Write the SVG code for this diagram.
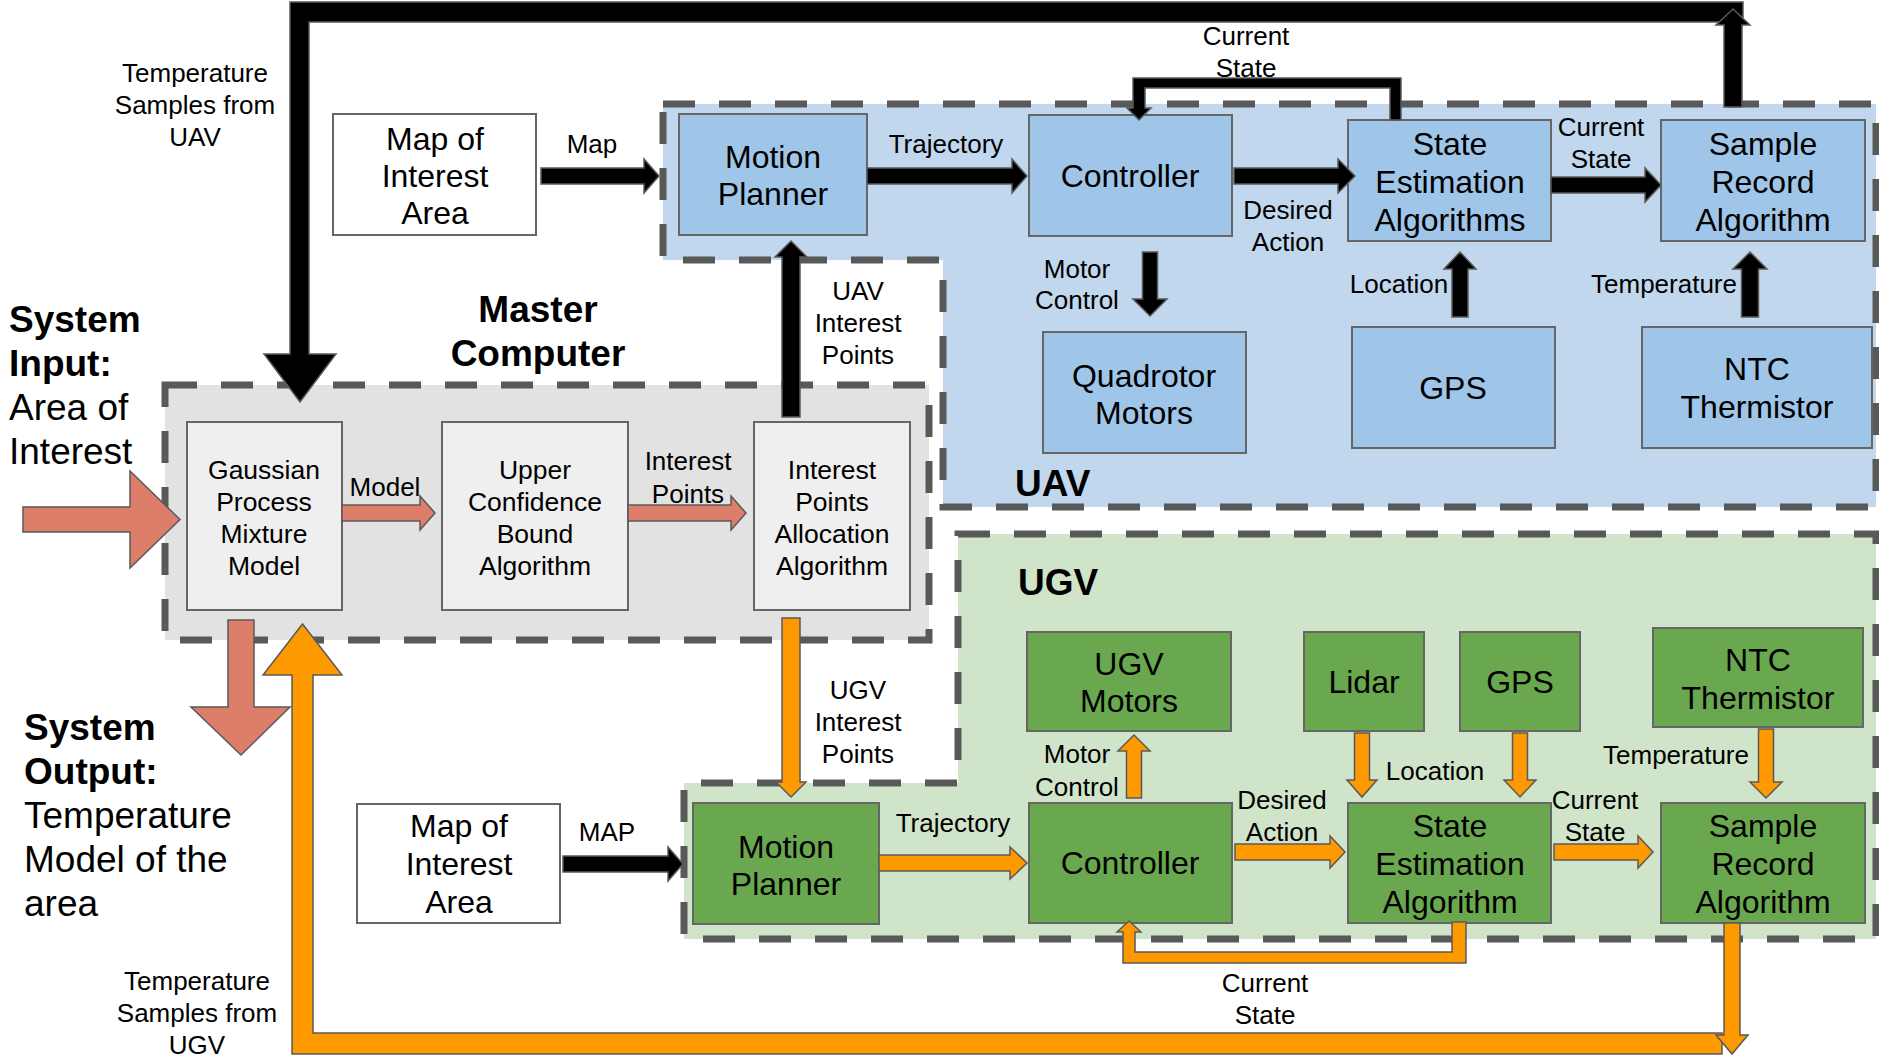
<svg xmlns="http://www.w3.org/2000/svg" width="1879" height="1058" viewBox="0 0 1879 1058">
<style>
text{font-family:"Liberation Sans",Arial,sans-serif;fill:#000}
.c{text-anchor:middle}
.t32{font-size:32px}
.t26{font-size:26px}
.t27{font-size:26.5px}
.hb{font-size:37px;font-weight:bold}
.hn{font-size:37px}
.box{stroke:#666;stroke-width:2}
.blue{fill:#9fc5e8}
.green{fill:#6aa84f}
.lg{fill:#efefef}
.wh{fill:#fff}
.region{stroke:#595959;stroke-width:7;stroke-dasharray:32 24}
.ab{fill:#000;stroke:#595959;stroke-width:1.5}
.ao{fill:#ff9900;stroke:#595959;stroke-width:1.5}
.as{fill:#dd7e6b;stroke:#595959;stroke-width:1.5}
</style>
<rect width="1879" height="1058" fill="#fff"/>

<g id="regions">
<rect id="master-region" class="region" x="165" y="385" width="764" height="255" fill="#e2e2e2"/>
<polygon id="uav-region" class="region" points="663,104 1876,104 1876,507 943,507 943,260 663,260" fill="#c0d7ee"/>
<polygon id="ugv-region" class="region" points="958,534 1876,534 1876,939 684,939 684,783 958,783" fill="#d0e4c9"/>
</g>

<g id="labels-regions">
<text class="hb c" x="538" y="322"><tspan x="538">Master</tspan><tspan x="538" dy="44">Computer</tspan></text>
<text class="hb" x="1015" y="496">UAV</text>
<text class="hb" x="1018" y="595">UGV</text>
<text x="9" y="332"><tspan class="hb" x="9">System</tspan><tspan class="hb" x="9" dy="44">Input:</tspan><tspan class="hn" x="9" dy="44">Area of</tspan><tspan class="hn" x="9" dy="44">Interest</tspan></text>
<text x="24" y="740"><tspan class="hb" x="24">System</tspan><tspan class="hb" x="24" dy="44">Output:</tspan><tspan class="hn" x="24" dy="44">Temperature</tspan><tspan class="hn" x="24" dy="44">Model of the</tspan><tspan class="hn" x="24" dy="44">area</tspan></text>
</g>

<g id="node-map-uav"><rect class="box wh" x="333" y="114" width="203" height="121"/><text class="t32 c" x="435" y="150"><tspan x="435">Map of</tspan><tspan x="435" dy="37">Interest</tspan><tspan x="435" dy="37">Area</tspan></text></g>
<g id="node-mp-uav"><rect class="box blue" x="679" y="114" width="188" height="121"/><text class="t32 c" x="773" y="168"><tspan x="773">Motion</tspan><tspan x="773" dy="37">Planner</tspan></text></g>
<g id="node-ctrl-uav"><rect class="box blue" x="1029" y="115" width="203" height="121"/><text class="t32 c" x="1130" y="187">Controller</text></g>
<g id="node-se-uav"><rect class="box blue" x="1348" y="120" width="203" height="121"/><text class="t32 c" x="1450" y="155"><tspan x="1450">State</tspan><tspan x="1450" dy="38">Estimation</tspan><tspan x="1450" dy="38">Algorithms</tspan></text></g>
<g id="node-sr-uav"><rect class="box blue" x="1661" y="120" width="204" height="121"/><text class="t32 c" x="1763" y="155"><tspan x="1763">Sample</tspan><tspan x="1763" dy="38">Record</tspan><tspan x="1763" dy="38">Algorithm</tspan></text></g>
<g id="node-quad"><rect class="box blue" x="1043" y="332" width="203" height="121"/><text class="t32 c" x="1144" y="387"><tspan x="1144">Quadrotor</tspan><tspan x="1144" dy="37">Motors</tspan></text></g>
<g id="node-gps-uav"><rect class="box blue" x="1352" y="327" width="203" height="121"/><text class="t32 c" x="1453" y="399">GPS</text></g>
<g id="node-ntc-uav"><rect class="box blue" x="1642" y="327" width="230" height="121"/><text class="t32 c" x="1757" y="380"><tspan x="1757">NTC</tspan><tspan x="1757" dy="38">Thermistor</tspan></text></g>

<g id="node-gpmm"><rect class="box lg" x="187" y="422" width="155" height="188"/><text class="t27 c" x="264" y="479"><tspan x="264">Gaussian</tspan><tspan x="264" dy="32">Process</tspan><tspan x="264" dy="32">Mixture</tspan><tspan x="264" dy="32">Model</tspan></text></g>
<g id="node-ucb"><rect class="box lg" x="442" y="422" width="186" height="188"/><text class="t27 c" x="535" y="479"><tspan x="535">Upper</tspan><tspan x="535" dy="32">Confidence</tspan><tspan x="535" dy="32">Bound</tspan><tspan x="535" dy="32">Algorithm</tspan></text></g>
<g id="node-ipa"><rect class="box lg" x="754" y="422" width="156" height="188"/><text class="t27 c" x="832" y="479"><tspan x="832">Interest</tspan><tspan x="832" dy="32">Points</tspan><tspan x="832" dy="32">Allocation</tspan><tspan x="832" dy="32">Algorithm</tspan></text></g>

<g id="node-map-ugv"><rect class="box wh" x="357" y="804" width="203" height="119"/><text class="t32 c" x="459" y="837"><tspan x="459">Map of</tspan><tspan x="459" dy="38">Interest</tspan><tspan x="459" dy="38">Area</tspan></text></g>
<g id="node-mp-ugv"><rect class="box green" x="693" y="803" width="186" height="121"/><text class="t32 c" x="786" y="858"><tspan x="786">Motion</tspan><tspan x="786" dy="37">Planner</tspan></text></g>
<g id="node-motors-ugv"><rect class="box green" x="1027" y="632" width="204" height="99"/><text class="t32 c" x="1129" y="675"><tspan x="1129">UGV</tspan><tspan x="1129" dy="37">Motors</tspan></text></g>
<g id="node-lidar"><rect class="box green" x="1304" y="632" width="120" height="99"/><text class="t32 c" x="1364" y="693">Lidar</text></g>
<g id="node-gps-ugv"><rect class="box green" x="1460" y="632" width="120" height="99"/><text class="t32 c" x="1520" y="693">GPS</text></g>
<g id="node-ntc-ugv"><rect class="box green" x="1653" y="628" width="210" height="99"/><text class="t32 c" x="1758" y="671"><tspan x="1758">NTC</tspan><tspan x="1758" dy="38">Thermistor</tspan></text></g>
<g id="node-ctrl-ugv"><rect class="box green" x="1029" y="803" width="203" height="120"/><text class="t32 c" x="1130" y="874">Controller</text></g>
<g id="node-se-ugv"><rect class="box green" x="1348" y="803" width="203" height="120"/><text class="t32 c" x="1450" y="837"><tspan x="1450">State</tspan><tspan x="1450" dy="38">Estimation</tspan><tspan x="1450" dy="38">Algorithm</tspan></text></g>
<g id="node-sr-ugv"><rect class="box green" x="1661" y="803" width="204" height="120"/><text class="t32 c" x="1763" y="837"><tspan x="1763">Sample</tspan><tspan x="1763" dy="38">Record</tspan><tspan x="1763" dy="38">Algorithm</tspan></text></g>

<g id="connectors">
<polygon class="ab" points="290,354 290,2 1743,2 1743,22 309,22 309,354 336,354 300,402 264,354"/>
<polygon class="ab" points="1724,107 1724,25 1716,25 1733,9 1750,25 1742,25 1742,107"/>
<polygon class="ab" points="1390,120 1390,88 1145,88 1145,108 1151,108 1139,120 1127,108 1133,108 1133,78 1401,78 1401,120"/>
<polygon class="ab" points="541,168 644,168 644,159 659,176 644,193 644,184 541,184"/>
<polygon class="ab" points="867,168 1012,168 1012,159 1027,176 1012,193 1012,184 867,184"/>
<polygon class="ab" points="1234,168 1338,168 1338,159 1355,176 1338,193 1338,184 1234,184"/>
<polygon class="ab" points="1551,177 1645,177 1645,168 1661,185 1645,202 1645,193 1551,193"/>
<polygon class="ab" points="782,417 782,257 775,257 791,241 807,257 800,257 800,417"/>
<polygon class="ab" points="1142.5,252 1157.5,252 1157.5,299 1167,299 1150,316 1133,299 1142.5,299"/>
<polygon class="ab" points="1452,317 1452,269 1444,269 1460,252 1476,269 1468,269 1468,317"/>
<polygon class="ab" points="1741.5,317 1741.5,269 1733,269 1750,252 1767,269 1758.5,269 1758.5,317"/>
<polygon class="ab" points="563,856 668,856 668,847 683,864 668,881 668,872 563,872"/>
<polygon class="as" points="23,507 130,507 130,471 180,519.5 130,568 130,532 23,532"/>
<polygon class="as" points="342,505 420,505 420,496 435,513 420,530 420,521 342,521"/>
<polygon class="as" points="628,505 731,505 731,496 746,513 731,530 731,521 628,521"/>
<polygon class="as" points="228,620 254,620 254,707 290,707 241,755 191,707 228,707"/>
<polygon class="ao" points="292,1054 1722,1054 1722,1033 313,1033 313,675 342,675 302.5,624 263,675 292,675"/>
<polygon class="ao" points="1724,923 1740,923 1740,1035 1748,1035 1732,1054 1716,1035 1724,1035"/>
<polygon class="ao" points="782,618 800,618 800,782 806,782 791,797 776,782 782,782"/>
<polygon class="ao" points="879,855 1010,855 1010,847 1027,863 1010,879 1010,871 879,871"/>
<polygon class="ao" points="1235,844 1330,844 1330,836 1345,852 1330,868 1330,860 1235,860"/>
<polygon class="ao" points="1554,844 1638,844 1638,836 1653,852 1638,868 1638,860 1554,860"/>
<polygon class="ao" points="1126.5,798 1126.5,751 1118,751 1134,735 1150,751 1141.5,751 1141.5,798"/>
<polygon class="ao" points="1354.5,733 1369.5,733 1369.5,780 1377,780 1362,797 1347,780 1354.5,780"/>
<polygon class="ao" points="1512.5,733 1527.5,733 1527.5,780 1536,780 1520,797 1504,780 1512.5,780"/>
<polygon class="ao" points="1758.5,729 1773.5,729 1773.5,782 1782,782 1766,798 1750,782 1758.5,782"/>
<polygon class="ao" points="1452,922 1466,922 1466,963 1123,963 1123,932 1117,932 1129,921 1141,932 1135,932 1135,952 1452,952"/>
</g>

<g id="connector-labels" class="t26">
<text class="c" x="195" y="82"><tspan x="195">Temperature</tspan><tspan x="195" dy="32">Samples from</tspan><tspan x="195" dy="32">UAV</tspan></text>
<text class="c" x="592" y="153">Map</text>
<text class="c" x="946" y="153">Trajectory</text>
<text class="c" x="1246" y="45"><tspan x="1246">Current</tspan><tspan x="1246" dy="32">State</tspan></text>
<text class="c" x="1288" y="219"><tspan x="1288">Desired</tspan><tspan x="1288" dy="32">Action</tspan></text>
<text class="c" x="1601" y="136"><tspan x="1601">Current</tspan><tspan x="1601" dy="32">State</tspan></text>
<text class="c" x="1077" y="278"><tspan x="1077">Motor</tspan><tspan x="1077" dy="31">Control</tspan></text>
<text class="c" x="1399" y="293">Location</text>
<text class="c" x="1664" y="293">Temperature</text>
<text class="c" x="858" y="300"><tspan x="858">UAV</tspan><tspan x="858" dy="32">Interest</tspan><tspan x="858" dy="32">Points</tspan></text>
<text class="c" x="385" y="496">Model</text>
<text class="c" x="688" y="470"><tspan x="688">Interest</tspan><tspan x="688" dy="33">Points</tspan></text>
<text class="c" x="858" y="699"><tspan x="858">UGV</tspan><tspan x="858" dy="32">Interest</tspan><tspan x="858" dy="32">Points</tspan></text>
<text class="c" x="607" y="841">MAP</text>
<text class="c" x="953" y="832">Trajectory</text>
<text class="c" x="1077" y="763"><tspan x="1077">Motor</tspan><tspan x="1077" dy="33">Control</tspan></text>
<text class="c" x="1435" y="780">Location</text>
<text class="c" x="1676" y="764">Temperature</text>
<text class="c" x="1282" y="809"><tspan x="1282">Desired</tspan><tspan x="1282" dy="32">Action</tspan></text>
<text class="c" x="1595" y="809"><tspan x="1595">Current</tspan><tspan x="1595" dy="32">State</tspan></text>
<text class="c" x="1265" y="992"><tspan x="1265">Current</tspan><tspan x="1265" dy="32">State</tspan></text>
<text class="c" x="197" y="990"><tspan x="197">Temperature</tspan><tspan x="197" dy="32">Samples from</tspan><tspan x="197" dy="32">UGV</tspan></text>
</g>
</svg>
